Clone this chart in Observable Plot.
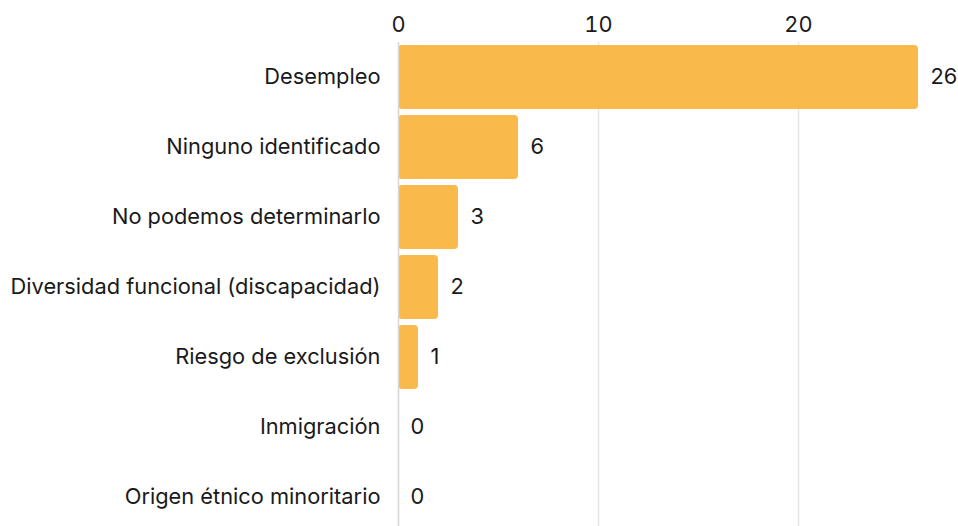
<!DOCTYPE html>
<html>
<head>
<meta charset="utf-8">
<script src="https://cdn.jsdelivr.net/npm/d3@7"></script>
<script src="https://cdn.jsdelivr.net/npm/@observablehq/plot@0.6"></script>
<style>
  html, body { margin: 0; padding: 0; background: #fff; }
  svg { font-family: Inter, "Liberation Sans", sans-serif; }
</style>
</head>
<body>
<div id="chart"></div>
<script>
const categories = [
  "Desempleo",
  "Ninguno identificado",
  "No podemos determinarlo",
  "Diversidad funcional (discapacidad)",
  "Riesgo de exclusión",
  "Inmigración",
  "Origen étnico minoritario"
];
const values = [26, 6, 3, 2, 1, 0, 0];
const xTicks = [0, 10, 20];

const data = categories.map((c, i) => ({category: c, value: values[i]}));

const FS = 21.8;
const chart = Plot.plot({
  width: 958,
  height: 526,
  marginLeft: 398,
  marginRight: 40,
  marginTop: 42,
  marginBottom: -6,
  style: {fontSize: FS + "px", color: "#1a1a1a", background: "#fff"},
  x: {domain: [0, 26], ticks: xTicks, label: null},
  y: {domain: categories, label: null, padding: 0.08, paddingOuter: 0.04},
  marks: [
    Plot.gridX(xTicks.filter(d => d > 0), {stroke: "#e6e6e6", strokeOpacity: 1, strokeWidth: 1.5}),
    Plot.axisX(xTicks, {anchor: "top", tickSize: 0, tickPadding: 11, fontSize: FS, fill: "#1a1a1a", label: null}),
    Plot.axisY({tickSize: 0, tickPadding: 18, fontSize: FS, fill: "#1a1a1a", label: null}),
    Plot.barX(data, {x: "value", y: "category", fill: "#F9BA4B", rx: 4}),
    Plot.ruleX([0], {stroke: "#d6d6d6", strokeWidth: 1.5}),
    Plot.text(data, {x: "value", y: "category", text: d => String(d.value), textAnchor: "start", dx: 12, fontSize: FS, fill: "#1a1a1a"})
  ]
});
document.getElementById("chart").appendChild(chart);
</script>
</body>
</html>
